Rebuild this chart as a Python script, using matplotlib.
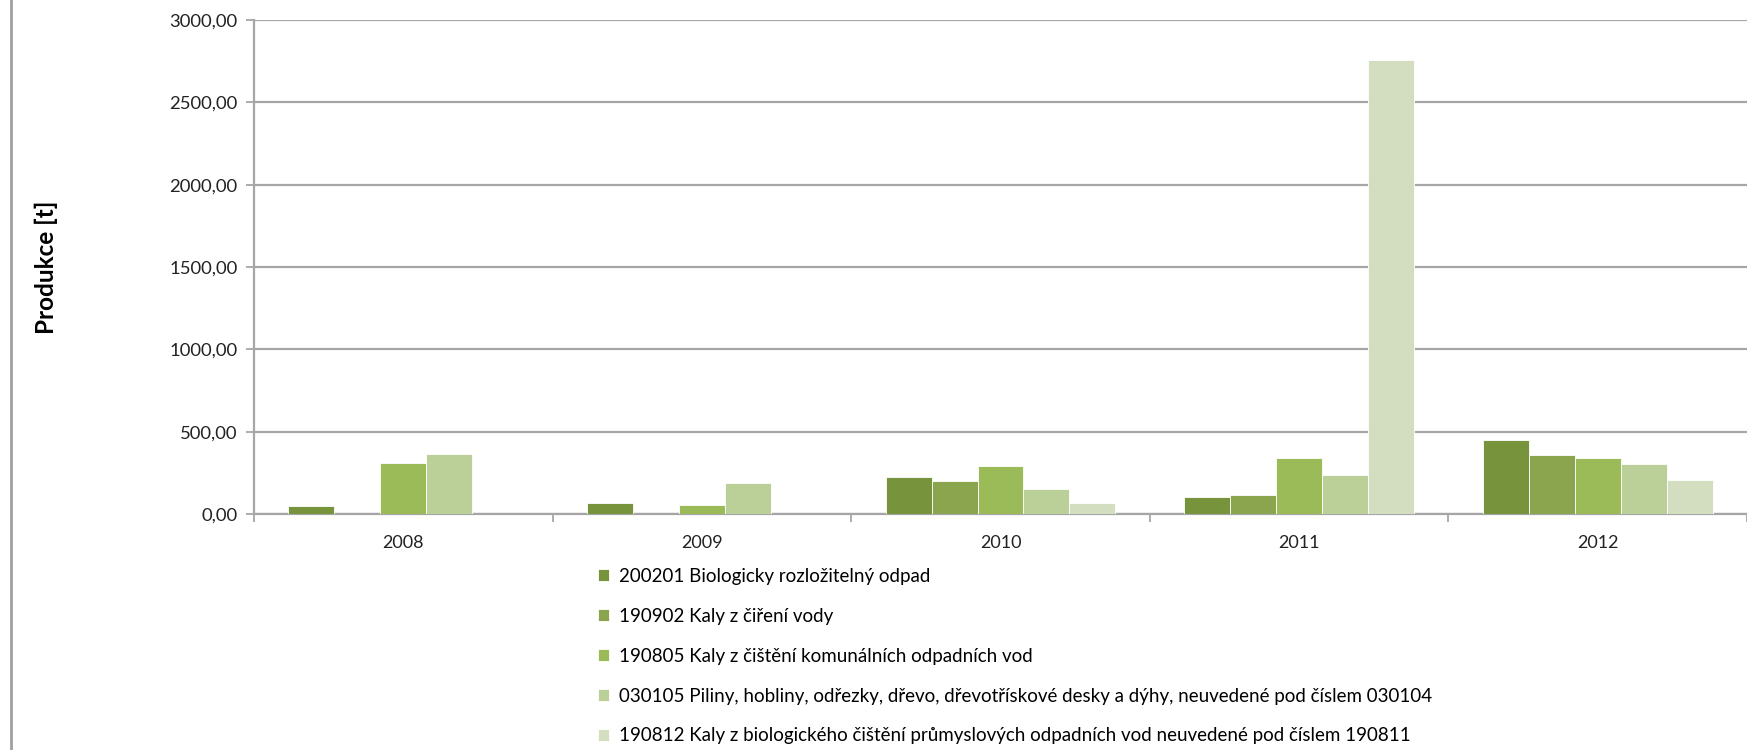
import numpy as np
import matplotlib
matplotlib.use("Agg")
import matplotlib.pyplot as plt
from matplotlib.ticker import FuncFormatter

plt.rcParams['font.family'] = ['Lato', 'DejaVu Sans']

years = ['2008', '2009', '2010', '2011', '2012']
series_names = [
    '200201 Biologicky rozložitelný odpad',
    '190902 Kaly z čiření vody',
    '190805 Kaly z čištění komunálních odpadních vod',
    '030105 Piliny, hobliny, odřezky, dřevo, dřevotřískové desky a dýhy, neuvedené pod číslem 030104',
    '190812 Kaly z biologického čištění průmyslových odpadních vod neuvedené pod číslem 190811',
]
v_200201 = [47, 65, 225, 103, 447]
v_190902 = [0, 0, 198, 115, 356]
v_190805 = [310, 57, 289, 338, 338]
v_030105 = [364, 188, 152, 235, 302]
v_190812 = [0, 0, 67, 2757, 206]
values = [v_200201, v_190902, v_190805, v_030105, v_190812]
colors = ['#77933C', '#8BA54F', '#9BBB59', '#BBCF98', '#D2DEBF']

fig = plt.figure(figsize=(17.47, 7.5), dpi=100)
ax = fig.add_axes([254 / 1747, 236 / 750, 1 - 254 / 1747, 494 / 750])

x = np.arange(len(years))
w = 1 / 6.5
for i, (vals, c) in enumerate(zip(values, colors)):
    ax.bar(x + (i - 2) * w, vals, w, color=c, edgecolor='#ffffff', linewidth=0.6,
           label=series_names[i], zorder=3)

ax.set_xlim(-0.5, 4.5)
ax.set_ylim(0, 3000)
ax.set_yticks(np.arange(0, 3001, 500))
ax.yaxis.set_major_formatter(FuncFormatter(lambda v, p: f'{v:.2f}'.replace('.', ',')))
ax.grid(axis='y', color='#A6A6A6', linewidth=1.6, zorder=1)
ax.set_xticks(x)
ax.set_xticklabels(years)
ax.set_xticks(np.arange(-0.5, 5, 1), minor=True)
ax.tick_params(axis='x', which='major', length=0, pad=15, labelsize=13, colors='#222222')
ax.tick_params(axis='x', which='minor', length=6, color='#A6A6A6', width=1.3)
ax.tick_params(axis='y', length=6, color='#A6A6A6', width=1.3, pad=6, labelsize=13.3,
               labelcolor='#222222')
for s in ['top', 'right']:
    ax.spines[s].set_visible(False)
for s in ['left', 'bottom']:
    ax.spines[s].set_color('#A6A6A6')
    ax.spines[s].set_linewidth(1.6)
ax.set_ylabel('Produkce [t]', fontsize=17.5, fontweight='bold', labelpad=0)
ax.yaxis.set_label_coords(-(254 - 58) / 1493, 0.5)

leg = fig.legend(loc='upper left', bbox_to_anchor=(598 / 1747, 1 - 568 / 750), ncol=1,
                 frameon=False, fontsize=13.5, handlelength=0.6, handleheight=0.6,
                 handletextpad=0.5, labelspacing=1.22, borderaxespad=0, borderpad=0)

fig.add_artist(plt.Line2D([11 / 1747, 11 / 1747], [0, 1], color='#A0A0A0', linewidth=2,
                          transform=fig.transFigure))

fig.savefig('out.png', dpi=100)
